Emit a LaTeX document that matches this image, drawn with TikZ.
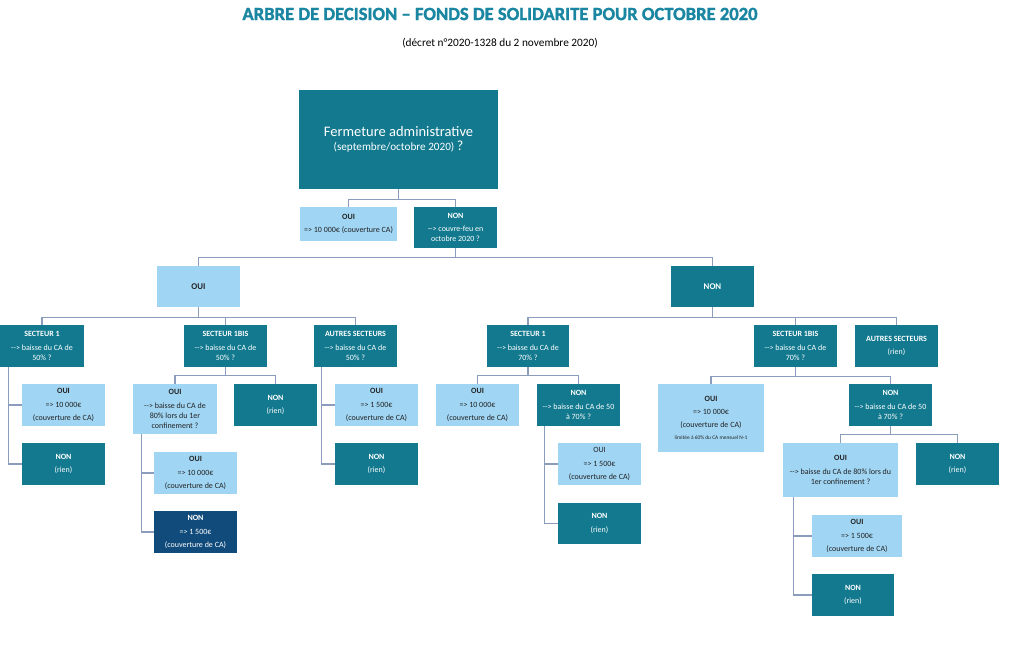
\documentclass[tikz,border=0pt]{standalone}
\usepackage{fontspec}
\setmainfont{Carlito}
\newfontfamily\titlefont{Carlito}[BoldFeatures={FakeBold=1.6}]
\usetikzlibrary{calc}
\definecolor{tealbox}{HTML}{12798F}
\definecolor{lightbox}{HTML}{A0D6F4}
\definecolor{navybox}{HTML}{114B7B}
\definecolor{conncol}{HTML}{8C9CBC}
\definecolor{titlecol}{HTML}{1A86A2}
\definecolor{darktext}{HTML}{222222}
\newcommand\mybox[7]{\node[#2, minimum width={(#5-#3)*1pt}, minimum height={(#6-#4)*1pt}] (#1) at ({(#3+#5)/2},{(#4+#6)/2}) {#7};}
\begin{document}
\begin{tikzpicture}[x=1pt,y=-1pt,
  box/.style={rectangle, inner sep=1pt, align=center, font=\fontsize{8}{10.2}\selectfont},
  dark/.style={box, fill=tealbox, text=white},
  light/.style={box, fill=lightbox, text=darktext},
  navy/.style={box, fill=navybox, text=white},
  conn/.style={draw=conncol, line width=1.2pt}]
\useasboundingbox (0,0) rectangle (1024,653);
\node[text=titlecol, font=\titlefont\fontsize{18.6}{20}\selectfont\bfseries] (title) at (500,14) {ARBRE DE DECISION – FONDS DE SOLIDARITE POUR OCTOBRE 2020};
\node[text=black, font=\fontsize{11.3}{13}\selectfont] (sub) at (500,43) {(décret n°2020-1328 du 2 novembre 2020)};

\mybox{top}{dark}{299}{90}{498}{189}{{\fontsize{14.5}{17}\selectfont Fermeture administrative}\\[4pt]{\fontsize{11.2}{13}\selectfont (septembre/octobre 2020) {\fontsize{14}{13}\selectfont ?}}}
\mybox{oui0}{light}{300}{207}{397}{241}{\textbf{OUI}\\[3pt]=> 10 000€ (couverture CA)}
\mybox{non0}{dark}{414}{207}{497}{248}{\textbf{NON}\\[3pt]-{}-> couvre-feu en\\octobre 2020 ?}

\mybox{oui1}{light}{157}{266}{240}{307}{\fontsize{8.8}{10}\selectfont\textbf{OUI}}
\mybox{non1}{dark}{671}{266}{754}{307}{\fontsize{8.8}{10}\selectfont\textbf{NON}}

% left branch
\mybox{s1}{dark}{0}{325}{84}{367}{\textbf{SECTEUR 1}\\[3pt]-{}-> baisse du CA de\\50\% ?}
\mybox{s1bis}{dark}{184}{325}{267}{367}{\textbf{SECTEUR 1BIS}\\[3pt]-{}-> baisse du CA de\\50\% ?}
\mybox{sA}{dark}{314}{325}{397}{367}{\textbf{AUTRES SECTEURS}\\[3pt]-{}-> baisse du CA de\\50\% ?}

\mybox{s1oui}{light}{22}{384}{105}{426}{\textbf{OUI}\\[3pt]=> 10 000€\\[3pt](couverture de CA)}
\mybox{s1non}{dark}{22}{443}{105}{485}{\textbf{NON}\\[3pt](rien)}
\mybox{bOui}{light}{133}{384}{217}{434}{\textbf{OUI}\\[3pt]-{}-> baisse du CA de\\80\% lors du 1er\\confinement ?}
\mybox{bNon}{dark}{234}{384}{317}{426}{\textbf{NON}\\[3pt](rien)}
\mybox{bOuiOui}{light}{154}{452}{237}{494}{\textbf{OUI}\\[3pt]=> 10 000€\\[3pt](couverture de CA)}
\mybox{bOuiNon}{navy}{154}{511}{237}{553}{\textbf{NON}\\[3pt]=> 1 500€\\[3pt](couverture de CA)}
\mybox{aOui}{light}{335}{384}{418}{426}{\textbf{OUI}\\[3pt]=> 1 500€\\[3pt](couverture de CA)}
\mybox{aNon}{dark}{335}{443}{418}{485}{\textbf{NON}\\[3pt](rien)}

% right branch
\mybox{r1}{dark}{487}{325}{569}{367}{\textbf{SECTEUR 1}\\[3pt]-{}-> baisse du CA de\\70\% ?}
\mybox{rB}{dark}{754}{325}{837}{367}{\textbf{SECTEUR 1BIS}\\[3pt]-{}-> baisse du CA de\\70\% ?}
\mybox{rA}{dark}{855}{325}{938}{367}{\textbf{AUTRES SECTEURS}\\[3pt](rien)}
\mybox{r1oui}{light}{436}{384}{519}{426}{\textbf{OUI}\\[3pt]=> 10 000€\\[3pt](couverture de CA)}
\mybox{r1non}{dark}{537}{384}{620}{426}{\textbf{NON}\\[3pt]-{}-> baisse du CA de 50\\à 70\% ?}
\mybox{r1nOui}{light}{558}{443}{641}{485}{OUI\\[3pt]=> 1 500€\\[3pt](couverture de CA)}
\mybox{r1nNon}{dark}{558}{503}{641}{544}{\textbf{NON}\\[3pt](rien)}
\mybox{rBoui}{light}{658}{384}{764}{452}{\textbf{OUI}\\[3pt]=> 10 000€\\[3pt](couverture de CA)\\[2pt]{\fontsize{5.4}{7}\selectfont limitée à 60\% du CA mensuel N-1}}
\mybox{rBnon}{dark}{849}{384}{932}{426}{\textbf{NON}\\[3pt]-{}-> baisse du CA de 50\\à 70\% ?}
\mybox{rBnOui}{light}{783}{443}{898}{497}{\textbf{OUI}\\[3pt]-{}-> baisse du CA de 80\% lors du\\1er confinement ?}
\mybox{rBnNon}{dark}{916}{443}{999}{485}{\textbf{NON}\\[3pt](rien)}
\mybox{rBnOuiOui}{light}{812}{515}{902}{557}{\textbf{OUI}\\[3pt]=> 1 500€\\[3pt](couverture de CA)}
\mybox{rBnOuiNon}{dark}{812}{574}{894}{616}{\textbf{NON}\\[3pt](rien)}

% connectors
\draw[conn] (top.south) -- ++(0,10) -| (oui0.north);
\draw[conn] (top.south) -- ++(0,10) -| (non0.north);
\draw[conn] (non0.south) -- ++(0,9) -| (oui1.north);
\draw[conn] (non0.south) -- ++(0,9) -| (non1.north);
\foreach \c in {s1,s1bis,sA} \draw[conn] (oui1.south) -- ++(0,10) -| (\c.north);
\foreach \c in {r1,rB,rA} \draw[conn] (non1.south) -- ++(0,10) -| (\c.north);
\foreach \c in {bOui,bNon} \draw[conn] (s1bis.south) -- ++(0,8) -| (\c.north);
\foreach \c in {r1oui,r1non} \draw[conn] (r1.south) -- ++(0,8) -| (\c.north);
\foreach \c in {rBoui,rBnon} \draw[conn] (rB.south) -- ++(0,9) -| (\c.north);
\foreach \c in {rBnOui,rBnNon} \draw[conn] (rBnon.south) -- ++(0,8) -| (\c.north);
\foreach \c in {s1oui,s1non} \draw[conn] ([xshift=9pt]s1.south west) |- (\c.west);
\foreach \c in {bOuiOui,bOuiNon} \draw[conn] ([xshift=9pt]bOui.south west) |- (\c.west);
\foreach \c in {aOui,aNon} \draw[conn] ([xshift=8pt]sA.south west) |- (\c.west);
\foreach \c in {r1nOui,r1nNon} \draw[conn] ([xshift=8pt]r1non.south west) |- (\c.west);
\foreach \c in {rBnOuiOui,rBnOuiNon} \draw[conn] ([xshift=11pt]rBnOui.south west) |- (\c.west);
\end{tikzpicture}
\end{document}
